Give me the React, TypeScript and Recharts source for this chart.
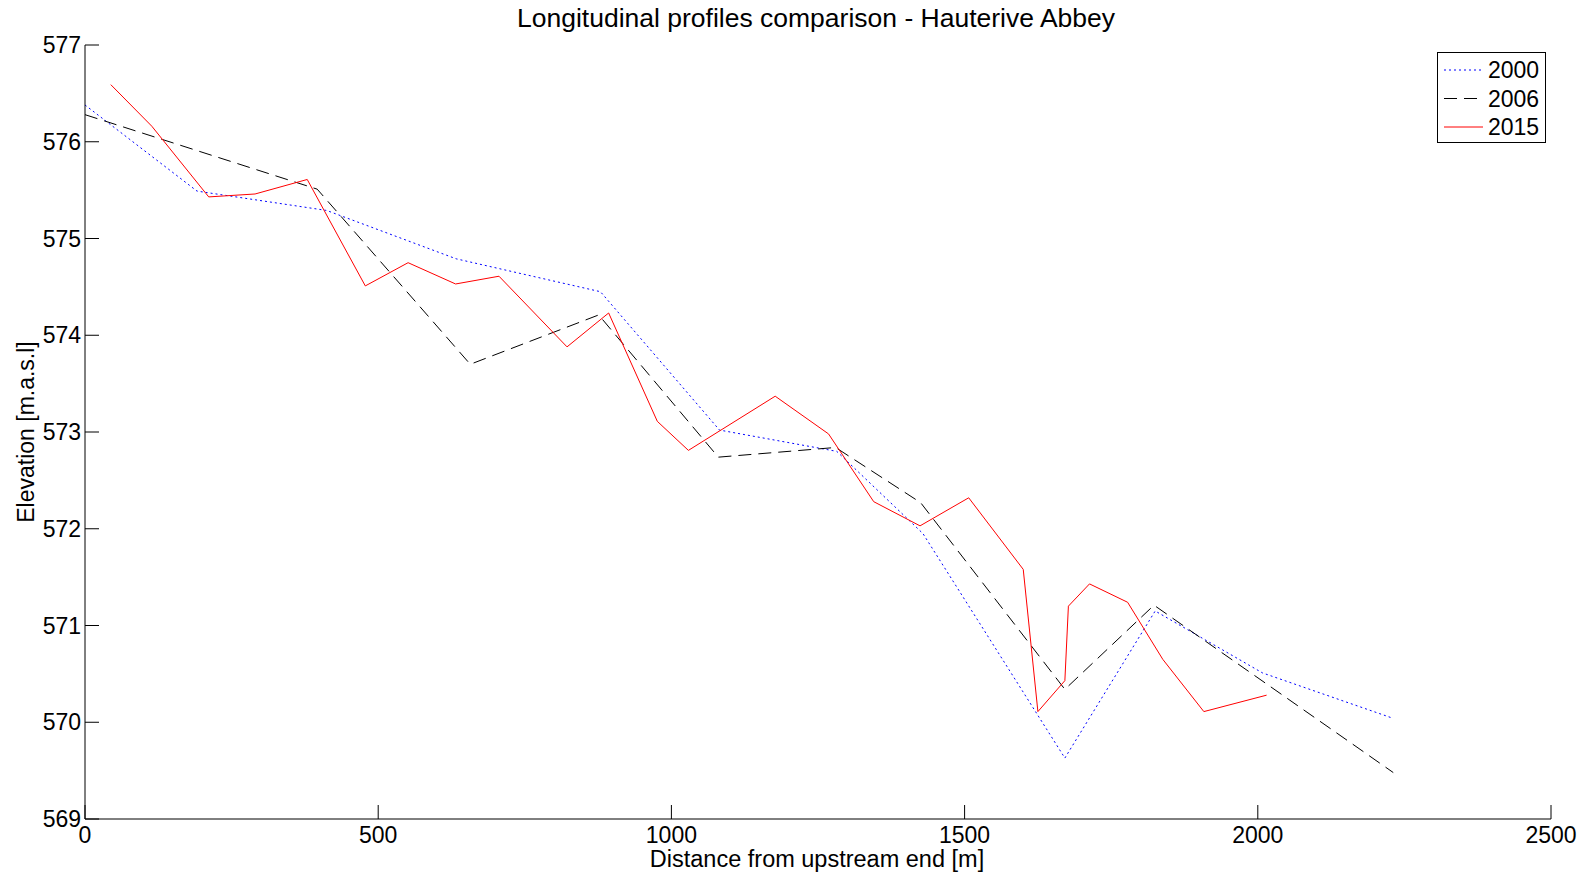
import { LineChart, Line, XAxis, YAxis } from "recharts";

const X_TICKS = [0, 500, 1000, 1500, 2000, 2500];
const Y_TICKS = [569, 570, 571, 572, 573, 574, 575, 576, 577];

const dist2000 = [0, 191, 412, 633, 879, 1082, 1282, 1429, 1671, 1825, 2008, 2231];
const elev2000 = [576.38, 575.49, 575.29, 574.79, 574.45, 573.02, 572.8, 571.95, 569.63, 571.15, 570.51, 570.04];

const dist2006 = [0, 396, 657, 876, 1080, 1280, 1425, 1671, 1823, 2231];
const elev2006 = [576.28, 575.51, 573.7, 574.21, 572.74, 572.84, 572.27, 570.34, 571.21, 569.48];

const dist2015 = [44, 114, 211, 290, 379, 478, 551, 632, 706, 822, 893, 976, 1029, 1177, 1268, 1345, 1424, 1507, 1600, 1625, 1671, 1677, 1713, 1778, 1838, 1908, 2015];
const elev2015 = [576.59, 576.16, 575.43, 575.46, 575.61, 574.51, 574.75, 574.53, 574.61, 573.88, 574.23, 573.11, 572.81, 573.37, 572.98, 572.28, 572.03, 572.32, 571.58, 570.11, 570.43, 571.2, 571.43, 571.24, 570.65, 570.11, 570.28];

const toRows = (xs: number[], ys: number[]) => xs.map((d, i) => ({ d, z: ys[i] }));

const SERIES = [
  { name: "2000", data: toRows(dist2000, elev2000), color: "#0000ff", dash: "2 3" },
  { name: "2006", data: toRows(dist2006, elev2006), color: "#000000", dash: "13 7" },
  { name: "2015", data: toRows(dist2015, elev2015), color: "#ff0000", dash: undefined },
];

const FONT = "'Liberation Sans', Arial, sans-serif";
const TICK_LEN = 14;

const BottomTick = ({ x, y, payload }: any) => (
  <g>
    <line x1={x} x2={x} y1={y} y2={y - TICK_LEN} stroke="#000" />
    <text x={x} y={y + 24} textAnchor="middle" fontSize={23} fontFamily={FONT} fill="#000">
      {payload.value}
    </text>
  </g>
);

const LeftTick = ({ x, y, payload }: any) => (
  <g>
    <line x1={x} x2={x + TICK_LEN} y1={y} y2={y} stroke="#000" />
    <text x={x - 4} y={y + 8} textAnchor="end" fontSize={23} fontFamily={FONT} fill="#000">
      {payload.value}
    </text>
  </g>
);

const TopTick = ({ x, y }: any) => <line x1={x} x2={x} y1={y} y2={y + TICK_LEN} stroke="#000" />;
const RightTick = ({ x, y }: any) => <line x1={x} x2={x - TICK_LEN} y1={y} y2={y} stroke="#000" />;

const LegendBox = () => (
  <svg width={110} height={92} style={{ display: "block" }}>
    <rect x={0.5} y={0.5} width={108} height={90} fill="#fff" stroke="#000" />
    {SERIES.map((s, i) => {
      const cy = 18 + i * 28.5;
      return (
        <g key={s.name}>
          <line x1={7} x2={46} y1={cy} y2={cy} stroke={s.color} strokeDasharray={s.dash} />
          <text x={51} y={cy + 8} fontSize={23} fontFamily={FONT} fill="#000">
            {s.name}
          </text>
        </g>
      );
    })}
  </svg>
);

const App = () => (
  <div style={{ position: "absolute", left: 0, top: 0, width: 1580, height: 873, background: "#fff", fontFamily: FONT }}>
    <LineChart width={1580} height={873} margin={{ top: 45, right: 29, bottom: 0, left: 0 }}>
      <XAxis
        xAxisId="bottom"
        dataKey="d"
        type="number"
        domain={[0, 2500]}
        ticks={X_TICKS}
        allowDataOverflow
        height={54}
        tickSize={0}
        tickMargin={0}
        tickLine={false}
        tick={<BottomTick />}
        axisLine={{ stroke: "#000" }}
      />
      <XAxis
        xAxisId="top"
        orientation="top"
        dataKey="d"
        type="number"
        domain={[0, 2500]}
        ticks={X_TICKS}
        allowDataOverflow
        height={0}
        tickSize={0}
        tickMargin={0}
        tickLine={false}
        tick={<TopTick />}
        axisLine={{ stroke: "#000" }}
      />
      <YAxis
        yAxisId="left"
        type="number"
        domain={[569, 577]}
        ticks={Y_TICKS}
        allowDataOverflow
        width={85}
        tickSize={0}
        tickMargin={0}
        tickLine={false}
        tick={<LeftTick />}
        axisLine={{ stroke: "#000" }}
      />
      <YAxis
        yAxisId="right"
        orientation="right"
        type="number"
        domain={[569, 577]}
        ticks={Y_TICKS}
        allowDataOverflow
        width={0}
        tickSize={0}
        tickMargin={0}
        tickLine={false}
        tick={<RightTick />}
        axisLine={{ stroke: "#000" }}
      />
      {SERIES.map((s) => (
        <Line
          key={s.name}
          xAxisId="bottom"
          yAxisId="left"
          data={s.data}
          dataKey="z"
          name={s.name}
          stroke={s.color}
          strokeWidth={1}
          strokeDasharray={s.dash}
          dot={false}
          activeDot={false}
          isAnimationActive={false}
        />
      ))}
    </LineChart>
    <div style={{ position: "absolute", left: 1437, top: 52 }}>
      <LegendBox />
    </div>
    <div style={{ position: "absolute", left: 0, top: 3, width: 1632, textAlign: "center", fontSize: 26.5, color: "#000" }}>
      Longitudinal profiles comparison - Hauterive Abbey
    </div>
    <div style={{ position: "absolute", left: 0, top: 846, width: 1634, textAlign: "center", fontSize: 23.5, lineHeight: "26px", color: "#000" }}>
      Distance from upstream end [m]
    </div>
    <div
      style={{
        position: "absolute",
        left: 26,
        top: 432,
        fontSize: 23,
        color: "#000",
        whiteSpace: "nowrap",
        transform: "translate(-50%, -50%) rotate(-90deg)",
      }}
    >
      Elevation [m.a.s.l]
    </div>
  </div>
);

export default App;
